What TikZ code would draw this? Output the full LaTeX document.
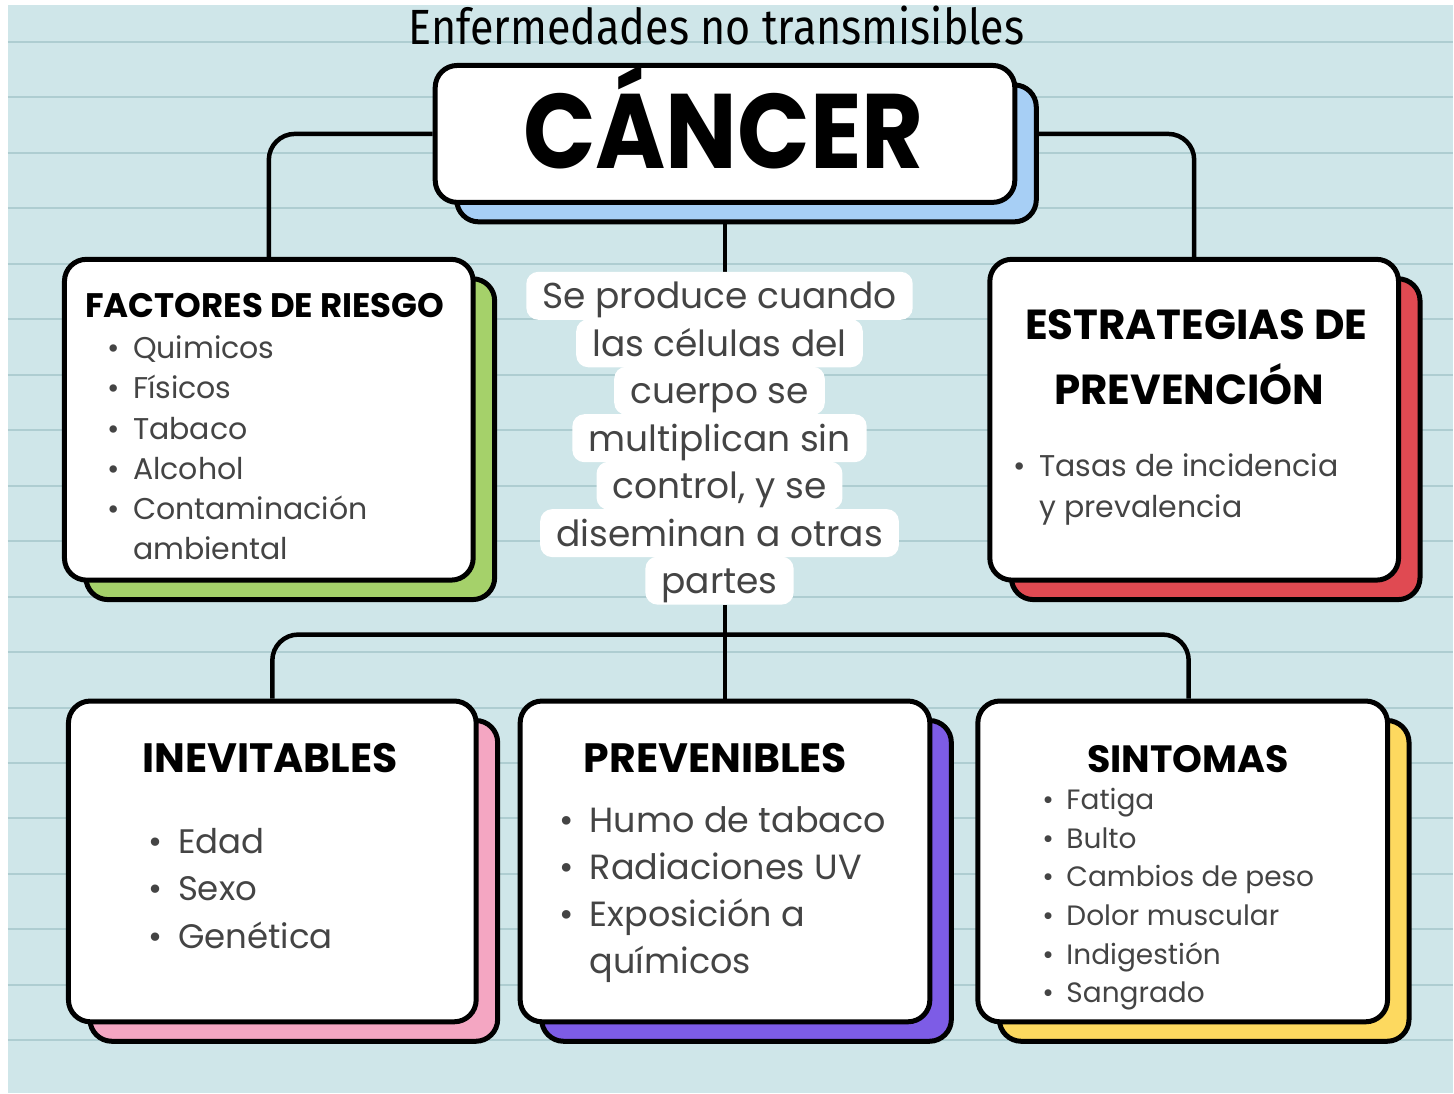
\documentclass[tikz,border=0pt]{standalone}
\usepackage{fontspec}
\setmainfont{Poppins}
\newfontfamily\titlefont{Fira Sans}[FakeStretch=0.87]
\newfontfamily\headfont{Poppins}
\newfontfamily\cancerfont{Poppins}[FakeStretch=0.9]
\usetikzlibrary{calc}
\definecolor{bgblue}{HTML}{CFE6E9}
\definecolor{bgline}{HTML}{AECDD1}
\definecolor{cblue}{HTML}{A7CFF5}
\definecolor{cgreen}{HTML}{A5D16A}
\definecolor{cred}{HTML}{E04A52}
\definecolor{cpink}{HTML}{F4A6C2}
\definecolor{cpurple}{HTML}{7D5CE6}
\definecolor{cyellow}{HTML}{FDD95F}
\definecolor{txt}{HTML}{444444}
\pgfdeclarelayer{bglayer}
\pgfdeclarelayer{connlayer}
\pgfdeclarelayer{shadowlayer}
\pgfsetlayers{bglayer,connlayer,shadowlayer,main}
\newcommand{\bu}{\llap{\textbullet\hspace{0.45em}}}
\newcommand{\card}[6]{%
  \begin{pgfonlayer}{shadowlayer}
    \path[cardline, fill=#6] (#2+24,#3+22) rectangle (#4+24,#5+22);
  \end{pgfonlayer}
  \node[cardline, fill=white, anchor=north west, minimum width={#4pt-#2pt}, minimum height={#5pt-#3pt}] (#1) at (#2,#3) {};
}
\tikzset{
  cardline/.style={draw=black, line width=5pt, rounded corners=22pt, inner sep=0pt},
  conn/.style={draw=black, line width=4.5pt},
  heading/.style={anchor=base, inner sep=0pt, text=black, font=\headfont\bfseries\fontsize{#1}{#1}\selectfont},
  blist/.style={anchor=base west, inner sep=0pt, text=txt, font=\fontsize{#1}{#1}\selectfont},
  desc/.style={fill=white, rounded corners=12pt, inner xsep=16pt, inner ysep=6pt, text height=31pt, text depth=5pt, text=txt, font=\fontsize{36}{40}\selectfont},
}
\begin{document}
\begin{tikzpicture}[x=1pt, y=-1pt]
\begin{pgfonlayer}{bglayer}
  \fill[white] (0,0) rectangle (1454,1094);
  \fill[bgblue] (8,5) rectangle (1454,1094);
  \foreach \k in {0,...,18} {
    \draw[bgline, line width=2pt] (8,42+55.5*\k) -- (1454,42+55.5*\k);
  }
\end{pgfonlayer}
\useasboundingbox (0,0) rectangle (1454,1094);

% title
\node[anchor=base, inner sep=0pt, font=\titlefont\fontsize{49.5}{60}\selectfont] (title) at (717,45) {Enfermedades no transmisibles};

% main box
\card{cancer}{433}{63}{1013}{200}{cblue}
\node[anchor=base, inner sep=0pt, font=\cancerfont\bfseries\fontsize{106}{110}\selectfont] (cancert) at (724,169) {CÁNCER};

% factores
\card{fact}{62}{257}{471}{578}{cgreen}
\node[heading=34] (factt) at (265,318) {FACTORES DE RIESGO};
\node[blist=30] (factl) at (133,359) {\fontsize{30}{40.2}\selectfont\begin{tabular}[t]{@{}l@{}}\bu Quimicos\\ \bu Físicos\\ \bu Tabaco\\ \bu Alcohol\\ \bu Contaminación\\ ambiental\end{tabular}};

% estrategias
\card{estr}{988}{257}{1397}{578}{cred}
\node[heading=42] (estrt1) at (1197,340) {ESTRATEGIAS DE};
\node[heading=42] (estrt2) at (1190,405) {PREVENCIÓN};
\node[blist=30] (estrl) at (1040,477) {\fontsize{30}{41}\selectfont\begin{tabular}[t]{@{}l@{}}\bu Tasas de incidencia\\ y prevalencia\end{tabular}};

% description
\node[desc] (d1) at (720,296) {Se produce cuando};
\node[desc] (d2) at (720,343.5) {las células del};
\node[desc] (d3) at (720,391) {cuerpo se};
\node[desc] (d4) at (720,438.5) {multiplican sin};
\node[desc] (d5) at (720,486) {control, y se};
\node[desc] (d6) at (720,533.5) {diseminan a otras};
\node[desc] (d7) at (720,581) {partes};

% inevitables
\card{inev}{66}{699}{474}{1020}{cpink}
\node[heading=41] (inevt) at (270,773) {INEVITABLES};
\node[blist=34] (inevl) at (178,854) {\fontsize{34}{47.5}\selectfont\begin{tabular}[t]{@{}l@{}}\bu Edad\\ \bu Sexo\\ \bu Genética\end{tabular}};

% prevenibles
\card{prev}{518}{699}{928}{1020}{cpurple}
\node[heading=41] (prevt) at (716,773) {PREVENIBLES};
\node[blist=35] (prevl) at (590,833) {\fontsize{35}{47}\selectfont\begin{tabular}[t]{@{}l@{}}\bu Humo de tabaco\\ \bu Radiaciones UV\\ \bu Exposición a\\ químicos\end{tabular}};

% sintomas
\card{sint}{976}{699}{1386}{1020}{cyellow}
\node[heading=38] (sintt) at (1189,773) {SINTOMAS};
\node[blist=28] (sintl) at (1067,810) {\fontsize{28}{38.7}\selectfont\begin{tabular}[t]{@{}l@{}}\bu Fatiga\\ \bu Bulto\\ \bu Cambios de peso\\ \bu Dolor muscular\\ \bu Indigestión\\ \bu Sangrado\end{tabular}};

% connectors
\coordinate (jn) at (723,635);
\begin{pgfonlayer}{connlayer}
  \draw[conn, rounded corners=26pt] (cancer.west) -| (fact.north);
  \draw[conn, rounded corners=26pt] (cancer.east) -| (estr.north);
  \draw[conn] (cancer.south) -- (cancer.south |- d1.north);
  \draw[conn] (prev.north |- d7.south) -- (prev.north);
  \draw[conn, rounded corners=26pt] (inev.north) |- (jn) -| ($(sint.north)+(6,0)$);
\end{pgfonlayer}
\end{tikzpicture}
\end{document}
